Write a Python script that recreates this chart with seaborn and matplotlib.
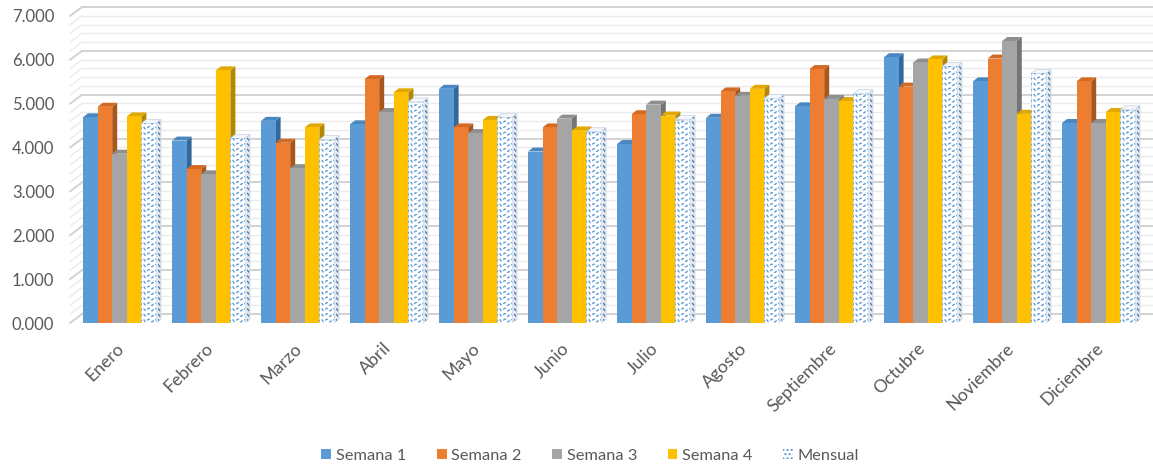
import numpy as np
import pandas as pd
import seaborn as sns
import matplotlib.pyplot as plt
import matplotlib.transforms as mtransforms
from matplotlib.patches import Polygon, Patch
from matplotlib.lines import Line2D
from matplotlib.ticker import FuncFormatter

# ---- data -------------------------------------------------------------
meses = ["Enero", "Febrero", "Marzo", "Abril", "Mayo", "Junio", "Julio",
         "Agosto", "Septiembre", "Octubre", "Noviembre", "Diciembre"]
series = ["Semana 1", "Semana 2", "Semana 3", "Semana 4", "Mensual"]

semana1 = [4690, 4160, 4610, 4530, 5340, 3910, 4080, 4680, 4940, 6060, 5510, 4560]
semana2 = [4930, 3510, 4110, 5560, 4460, 4460, 4760, 5280, 5790, 5390, 6030, 5510]
semana3 = [3860, 3390, 3530, 4810, 4330, 4660, 4980, 5180, 5110, 5940, 6430, 4560]
semana4 = [4710, 5760, 4460, 5260, 4630, 4390, 4730, 5340, 5060, 6010, 4770, 4810]
mensual = [4550, 4210, 4180, 5040, 4690, 4360, 4640, 5120, 5230, 5850, 5690, 4860]

y_ticks = [0, 1000, 2000, 3000, 4000, 5000, 6000, 7000]

# ---- styling ----------------------------------------------------------
sns.set_theme(style="white")
plt.rcParams["font.family"] = ["Lato", "DejaVu Sans"]
TEXT = "#595959"

front = ["#5b9bd5", "#ed7d31", "#a5a5a5", "#ffc000", "#ffffff"]
topc = ["#4a86c0", "#d26a24", "#8f8f8f", "#e0a800", "#f4f7fb"]
sidec = ["#35689a", "#a9561c", "#747474", "#b38700", "#e3e9f0"]
WAVE = "#5b9bd5"

df = pd.DataFrame({
    "mes": np.repeat(meses, 5),
    "serie": series * len(meses),
    "valor": np.ravel(np.column_stack([semana1, semana2, semana3, semana4, mensual])),
})

W, H = 1153, 467
fig = plt.figure(figsize=(W / 100, H / 100), dpi=100)
fig.patch.set_facecolor("white")
ax = fig.add_axes([75 / W, (H - 323) / H, 1068 / W, 307 / H])
ax.set_facecolor("none")

sns.barplot(data=df, x="mes", y="valor", hue="serie", hue_order=series,
            palette=dict(zip(series, front)), saturation=1, width=0.82,
            legend=False, ax=ax, linewidth=0, err_kws={"linewidth": 0})

ax.set_xlim(-0.5, len(meses) - 0.5)
ax.set_ylim(0, 7000)
for s in ax.spines.values():
    s.set_visible(False)
ax.set_xlabel("")
ax.set_ylabel("")

# ---- back wall and side wall grid --------------------------------------
BX, BY = 12, 9          # perspective shift of the back wall (pixels)
fig.canvas.draw()
ident = mtransforms.IdentityTransform()
x_side = 70
x_end = W
for v in range(0, 7001, 200):
    major = v % 1000 == 0
    col = "#d2d2d2" if major else "#ebebeb"
    lw = 1.4 if major else 1.0
    py = ax.transData.transform((0, v))[1]
    ax.add_line(Line2D([x_side, x_side + BX], [py, py + BY], transform=ident,
                       color=col, lw=lw, zorder=0.5, clip_on=False))
    ax.add_line(Line2D([x_side + BX, x_end], [py + BY, py + BY], transform=ident,
                       color=col, lw=lw, zorder=0.5, clip_on=False))

# ---- 3D faces of the columns -----------------------------------------
DX, DY = 5, 4           # depth of each column (pixels)
inv = ax.transData.inverted()


def add_waves(clip, x0, x1, y0, y1, color):
    """Fill a region with small wavy dashes, clipped to the given patch."""
    step = 5.5
    yy = y0 + 2.5
    while yy < y1 + DY:
        xs = np.linspace(x0 - 2, x1 + 2, 48)
        ys = yy + 1.4 * np.sin((xs - x0) / 6.0 * 2 * np.pi)
        ln = Line2D(xs, ys, transform=ident, color=color, lw=0.95,
                    dashes=(2.4, 1.8), zorder=clip.get_zorder() + 0.1)
        ax.add_line(ln)
        ln.set_clip_path(clip)
        yy += step


for k, cont in enumerate(ax.containers):
    for bar in cont:
        bar.set_zorder(3 + 2 * k)
        x0, y0 = bar.get_xy()
        w, h = bar.get_width(), bar.get_height()
        px0, py0 = ax.transData.transform((x0, y0))
        px1, py1 = ax.transData.transform((x0 + w, y0 + h))
        top = [(px0, py1), (px1, py1), (px1 + DX, py1 + DY), (px0 + DX, py1 + DY)]
        side = [(px1, py0), (px1 + DX, py0 + DY), (px1 + DX, py1 + DY), (px1, py1)]
        for pts, col in ((side, sidec[k]), (top, topc[k])):
            poly = Polygon(inv.transform(pts), closed=True, facecolor=col,
                           edgecolor="none", zorder=2 + 2 * k)
            ax.add_patch(poly)
            if k == 4:
                poly.set_edgecolor("#c3d2e2")
                poly.set_linewidth(0.5)
                if col == sidec[k]:
                    add_waves(poly, px1, px1 + DX, py0, py1, "#4d79a6")
        if k == 4:
            bar.set_edgecolor("#d0deec")
            bar.set_linewidth(0.5)
            add_waves(bar, px0, px1, py0, py1, WAVE)

# ---- axes text --------------------------------------------------------
ax.set_yticks(y_ticks)
ax.yaxis.set_major_formatter(FuncFormatter(lambda v, p: f"{v / 1000:.3f}"))
ax.tick_params(axis="y", length=0, pad=15, labelsize=12, labelcolor=TEXT)
ax.tick_params(axis="x", length=0, pad=10, labelsize=12.8, labelcolor=TEXT)
ax.set_xticks(range(len(meses)))
ax.set_xticklabels(meses, rotation=45, ha="right", va="center",
                   rotation_mode="anchor")
shift = mtransforms.ScaledTranslation(2 / 100, -9 / 100, fig.dpi_scale_trans)
for lab in ax.get_xticklabels():
    lab.set_transform(lab.get_transform() + shift)

# ---- legend -----------------------------------------------------------
handles = [Patch(facecolor=c, edgecolor="none") for c in front[:4]]
handles.append(Patch(facecolor="white", edgecolor=WAVE, hatch="....", linewidth=0))
leg = fig.legend(handles, series, loc="lower center", ncol=5, frameon=False,
                 bbox_to_anchor=(0.512, -0.022), fontsize=11.8,
                 handlelength=0.6, handleheight=0.6, handletextpad=0.3,
                 columnspacing=1.85, labelcolor=TEXT)

fig.savefig("out.png", dpi=100, facecolor="white")
